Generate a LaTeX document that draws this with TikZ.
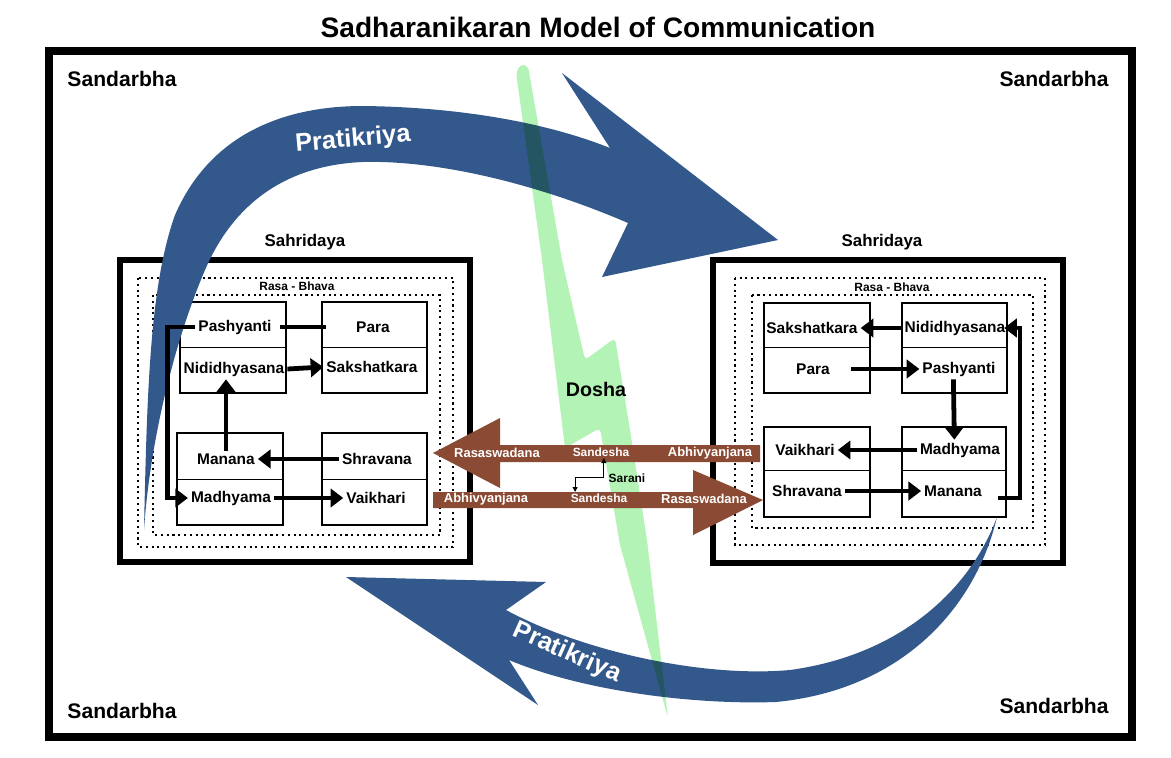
\documentclass[tikz,border=0pt]{standalone}
\usepackage{fontspec}
\setmainfont{Liberation Sans}
\usetikzlibrary{arrows.meta,calc}

\begin{document}
\begin{tikzpicture}[x=0.025cm, y=-0.025cm,
  cellbox/.style={line width=1pt},
  halfline/.style={line width=0.6pt},
  sahbox/.style={line width=3.6pt},
  rasaline/.style={line width=1.5pt, dash pattern=on 1.5pt off 2.6pt},
  word/.style={inner sep=2pt, font=\fontsize{11}{13}\selectfont\bfseries},
  corner/.style={font=\fontsize{15}{18}\selectfont\bfseries},
  sahlabel/.style={font=\fontsize{12}{14}\selectfont\bfseries},
  rasalabel/.style={inner sep=1pt, font=\fontsize{8.5}{10}\selectfont\bfseries},
  sandtext/.style={text=white, inner sep=1pt, font=\fontsize{9.2}{11}\selectfont\bfseries},
  link/.style={line width=3.4pt},
  arr/.style={link, -{Triangle[length=9pt,width=13pt]}},
  sarlink/.style={line width=0.8pt, {Triangle[length=3.5pt,width=3.5pt]}-{Triangle[length=3.5pt,width=3.5pt]}},
  prat/.style={fill=pratblue},
  pratlabel/.style={text=white, font=\fontsize{18}{21}\selectfont\bfseries}]
\definecolor{pratblue}{HTML}{33598C}
\definecolor{sandbrown}{HTML}{8B4A33}
\definecolor{doshagreen}{HTML}{B3F4B6}
\fill[white] (0,0) rectangle (1171,757);
\useasboundingbox (0,0) rectangle (1171,757);

\node[font=\fontsize{20}{24}\selectfont\bfseries] (title) at (598,27) {Sadharanikaran Model of Communication};
\draw[line width=5.7pt] (49,51) rectangle (1132,737);
\node[corner] (sandTL) at (122,79) {Sandarbha};
\node[corner] (sandTR) at (1054,79) {Sandarbha};
\node[corner] (sandBL) at (122,711) {Sandarbha};
\node[corner] (sandBR) at (1054,706) {Sandarbha};

% left Sahridaya
\node[sahlabel] (lSahridaya) at (305,242) {Sahridaya};
\draw[sahbox] (120,260) rectangle (470,562);
\draw[rasaline] (138,278) rectangle (453,547);
\draw[rasaline] (153,295) rectangle (440,535);
\node[rasalabel] (lRasa) at (297,286) {Rasa - Bhava};
\draw[cellbox] (180,302) rectangle (286,393);
\draw[halfline] (180,347) -- (286,347);
\draw[cellbox] (322,302) rectangle (427,393);
\draw[halfline] (322,347) -- (427,347);
\draw[cellbox] (177,433) rectangle (283,525);
\draw[halfline] (177,479) -- (283,479);
\draw[cellbox] (322,433) rectangle (427,525);
\draw[halfline] (322,479) -- (427,479);

% right Sahridaya
\node[sahlabel] (rSahridaya) at (882,242) {Sahridaya};
\draw[sahbox] (713,260) rectangle (1063,563);
\draw[rasaline] (735,278) rectangle (1045,545);
\draw[rasaline] (752,295) rectangle (1033,528);
\node[rasalabel] (rRasa) at (892,287) {Rasa - Bhava};
\draw[cellbox] (764,303) rectangle (870,393);
\draw[halfline] (764,347) -- (870,347);
\draw[cellbox] (902,303) rectangle (1007,393);
\draw[halfline] (902,347) -- (1007,347);
\draw[cellbox] (764,427) rectangle (870,517);
\draw[halfline] (764,470) -- (870,470);
\draw[cellbox] (902,427) rectangle (1006,517);
\draw[halfline] (902,470) -- (1006,470);

% Pratikriya arrows
\fill[prat] (144,530) .. controls (147,390) and (150,285) .. (175,215) .. controls (212,130) and (290,106) .. (363,106) .. controls (450,107) and (540,120) .. (610,148)
  -- (562,73) -- (778,240) -- (602,277) -- (628,223)
  .. controls (540,185) and (440,160) .. (363,162) .. controls (290,165) and (235,200) .. (205,270) .. controls (175,340) and (150,440) .. (144,530) -- cycle;
\node[pratlabel, rotate=5] (pratTop) at (353,140) {Pratikriya};
\fill[prat] (997,517) .. controls (975,610) and (900,690) .. (776,702) .. controls (690,705) and (580,690) .. (509,660)
  -- (538,705) -- (346,577) -- (546,582) -- (506,610)
  .. controls (580,650) and (700,678) .. (790,670) .. controls (900,655) and (970,590) .. (997,517) -- cycle;
\node[pratlabel, rotate=-24] (pratBot) at (567,653) {Pratikriya};

% Dosha
\fill[doshagreen, blend mode=multiply, rounded corners=3pt] (516,72) -- (521,64) -- (528,66) -- (562,260) -- (585,360) -- (615,338) -- (630,430) -- (647,540) -- (668,718) -- (620,545) -- (600,428) -- (565,448) -- (542,260) -- cycle;
\node[font=\fontsize{14}{17}\selectfont\bfseries] (dosha) at (596,389) {Dosha};

% Sandesha arrows
\fill[sandbrown] (760,445) -- (500,445) -- (500,418) -- (433,453) -- (500,488) -- (500,462) -- (760,462) -- cycle;
\fill[sandbrown] (433,492) -- (693,492) -- (693,470) -- (763,500) -- (693,535) -- (693,508) -- (433,508) -- cycle;
\node[sandtext] (upRasa) at (497,453) {Rasaswadana};
\node[sandtext, font=\fontsize{8.5}{10}\selectfont\bfseries] (upSandesha) at (601,452) {Sandesha};
\node[sandtext] (upAbhi) at (710,453) {Abhivyanjana};
\node[sandtext] (loAbhi) at (486,499) {Abhivyanjana};
\node[sandtext, font=\fontsize{8.5}{10}\selectfont\bfseries] (loSandesha) at (599,498) {Sandesha};
\node[sandtext] (loRasa) at (704,499) {Rasaswadana};
\node[rasalabel] (sarani) at (627,478) {Sarani};
\draw[sarlink] ([xshift=-17pt]loSandesha.north) -- ++(0,-14) -| ([xshift=2pt]upSandesha.south);

% left words
\node[word] (lPashyanti) at (235,327) {Pashyanti};
\node[word] (lPara) at (373,327) {Para};
\node[word] (lNididh) at (234,369) {Nididhyasana};
\node[word] (lSaksh) at (372,367) {Sakshatkara};
\node[word] (lManana) at (226,459) {Manana};
\node[word] (lShravana) at (377,459) {Shravana};
\node[word] (lMadhyama) at (231,498) {Madhyama};
\node[word] (lVaikhari) at (376,498) {Vaikhari};
\draw[link] ([xshift=4pt]lPashyanti.east) -- ([xshift=-19pt]lPara.west);
\draw[arr] (lNididh.east) -- (lSaksh.west);
\draw[arr] (lManana.north) -- (lManana.north |- lNididh.south);
\draw[arr] (lShravana.west) -- (lManana.east);
\draw[arr] (lMadhyama.east) -- (lVaikhari.west);
\draw[arr] (lPashyanti.west) -- ++(-28,0) |- (lMadhyama.west);

% right words
\node[word] (rSaksh) at (812,328) {Sakshatkara};
\node[word] (rNididh) at (955,328) {Nididhyasana};
\node[word] (rPara) at (813,369) {Para};
\node[word] (rPashyanti) at (959,369) {Pashyanti};
\node[word] (rVaikhari) at (805,450) {Vaikhari};
\node[word] (rMadhyama) at (960,450) {Madhyama};
\node[word] (rShravana) at (807,491) {Shravana};
\node[word] (rManana) at (953,491) {Manana};
\draw[arr] (rNididh.west) -- (rSaksh.east);
\draw[arr] ([xshift=13pt]rPara.east) -- (rPashyanti.west);
\draw[arr] ([xshift=-4pt]rPashyanti.south) -- ([xshift=-4pt]rMadhyama.north);
\draw[arr] (rMadhyama.west) -- (rVaikhari.east);
\draw[arr] (rShravana.east) -- (rManana.west);
\draw[arr] ([shift={(13,7)}]rManana.east) -- ++(22,0) |- ([xshift=-3pt]rNididh.east);
\end{tikzpicture}
\end{document}
